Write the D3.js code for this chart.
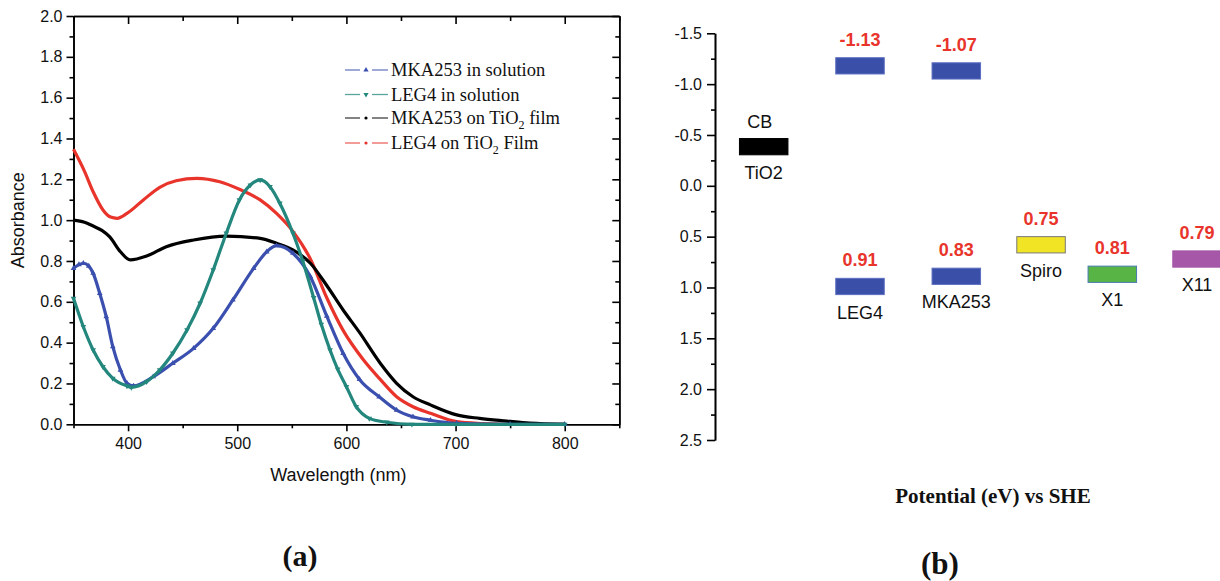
<!DOCTYPE html>
<html><head><meta charset="utf-8">
<script src="https://cdn.jsdelivr.net/npm/d3@7"></script>
<style>body{margin:0;background:#fff}svg{display:block}</style>
</head><body>
<svg id="chart" width="1220" height="581"></svg>
<script>
// ---------- Panel (a) data: absorbance spectra ----------
const mkaSolWl  = [350,355,359,364,368,374,380,386,393,399,405,423,441,460,478,496,515,527,536,551,567,582,597,612,630,646,661,677,701,750,800];
const mkaSolAbs = [0.764,0.782,0.789,0.775,0.740,0.642,0.527,0.380,0.266,0.201,0.188,0.233,0.299,0.372,0.470,0.609,0.764,0.845,0.875,0.838,0.723,0.530,0.348,0.220,0.135,0.070,0.037,0.020,0.005,0.0,0.0];

const legSolWl  = [350,359,368,377,386,399,403,417,429,441,454,466,478,490,502,512,521,530,539,551,560,570,577,585,592,600,609,621,637,660,700,800];
const legSolAbs = [0.617,0.478,0.364,0.282,0.225,0.188,0.181,0.209,0.266,0.348,0.462,0.593,0.756,0.936,1.099,1.172,1.197,1.164,1.083,0.936,0.800,0.620,0.490,0.364,0.270,0.184,0.086,0.029,0.010,0.0,0.0,0.0];

const mkaFilmWl  = [350,360,368,376,383,393,402,417,435,460,490,521,536,551,567,582,597,612,631,646,661,677,701,722,747,768,800];
const mkaFilmAbs = [1.000,0.990,0.971,0.950,0.919,0.845,0.805,0.824,0.870,0.903,0.922,0.911,0.887,0.854,0.789,0.680,0.560,0.450,0.299,0.201,0.135,0.095,0.046,0.029,0.016,0.006,0.0];

const legFilmWl  = [350,360,368,377,384,390,399,414,429,444,463,484,502,521,536,551,567,582,597,615,631,646,661,677,701,725,750,800];
const legFilmAbs = [1.347,1.240,1.139,1.050,1.015,1.009,1.033,1.099,1.161,1.193,1.205,1.188,1.151,1.099,1.033,0.945,0.810,0.620,0.460,0.320,0.220,0.135,0.086,0.054,0.013,0.004,0.0,0.0];

const seriesNames = ["MKA253 in solution","LEG4 in solution","MKA253 on TiO2 film","LEG4 on TiO2 Film"];
const absTicksMajor = [0,0.2,0.4,0.6,0.8,1.0,1.2,1.4,1.6,1.8,2.0];
const absTicksMinor = [0.1,0.3,0.5,0.7,0.9,1.1,1.3,1.5,1.7,1.9];
const wlTicksMajor = [400,500,600,700,800];
const wlTicksMinor = [350,450,550,650,750,850];

// ---------- Panel (b) data: energy levels ----------
const categories   = ["TiO2","LEG4","MKA253","Spiro","X1","X11"];
const categorySlot = [1, 2, 3, 3.88, 4.62, 5.5];
const levelCategory = ["TiO2","LEG4","MKA253","LEG4","MKA253","Spiro","X1","X11"];
const levelKind     = ["CB","LUMO","LUMO","HOMO","HOMO","HOMO","HOMO","HOMO"];
const levelCenter   = [-0.385,-1.18,-1.13,0.99,0.89,0.58,0.87,0.72];
const levelValue    = [null,-1.13,-1.07,0.91,0.83,0.75,0.81,0.79];
const potTicksMajor = [-1.5,-1.0,-0.5,0.0,0.5,1.0,1.5,2.0,2.5];
const potTicksMinor = [-1.25,-0.75,-0.25,0.25,0.75,1.25,1.75,2.25];

// ---------- styles ----------
const colMka = "#3a4fae", colLeg = "#23877d", colBlack = "#000", colRed = "#e8342b";
const levelFill = {TiO2:"#000", LEG4:"#3a4fa8", MKA253:"#3a4fa8", Spiro:"#f1e425", X1:"#59b446", X11:"#a657a8"};
const levelStroke = {TiO2:"#000", LEG4:"#5c6fc0", MKA253:"#5c6fc0", Spiro:"#777", X1:"#4a7ab0", X11:"#a657a8"};
const sans = "'Liberation Sans', Arial, sans-serif";
const serif = "'Liberation Serif', 'Times New Roman', serif";

const svg = d3.select("#chart");

// ================= Panel (a) =================
const ax = {l:73.5, r:619.3, t:16, b:424.3};
const x = d3.scaleLinear().domain([350,850]).range([ax.l, ax.r]);
const y = d3.scaleLinear().domain([0,2]).range([ax.b, ax.t]);
const gA = svg.append("g");

function styleAxis(g, labels) {
  g.selectAll("path.domain").attr("stroke","#000").attr("stroke-width",1.6);
  g.selectAll(".tick line").attr("stroke","#000").attr("stroke-width",1.6);
  g.selectAll(".tick text").attr("font-family",sans).attr("font-size",16).attr("fill","#111");
  if (!labels) g.selectAll(".tick text").remove();
}
// left
let g = gA.append("g").attr("transform",`translate(${ax.l},0)`)
  .call(d3.axisLeft(y).tickValues(absTicksMinor).tickSize(4).tickSizeOuter(0));
styleAxis(g,false);
g = gA.append("g").attr("transform",`translate(${ax.l},0)`)
  .call(d3.axisLeft(y).tickValues(absTicksMajor).tickSize(7).tickSizeOuter(0).tickPadding(4).tickFormat(d3.format(".1f")));
styleAxis(g,true);
// right (inward)
g = gA.append("g").attr("transform",`translate(${ax.r},0)`)
  .call(d3.axisRight(y).tickValues(absTicksMinor).tickSize(-4).tickSizeOuter(0));
styleAxis(g,false);
g = gA.append("g").attr("transform",`translate(${ax.r},0)`)
  .call(d3.axisRight(y).tickValues(absTicksMajor).tickSize(-7).tickSizeOuter(0));
styleAxis(g,false);
// bottom
g = gA.append("g").attr("transform",`translate(0,${ax.b})`)
  .call(d3.axisBottom(x).tickValues(wlTicksMinor).tickSize(4).tickSizeOuter(0));
styleAxis(g,false);
g = gA.append("g").attr("transform",`translate(0,${ax.b})`)
  .call(d3.axisBottom(x).tickValues(wlTicksMajor).tickSize(7).tickSizeOuter(0).tickPadding(6));
styleAxis(g,true);
// top (inward)
g = gA.append("g").attr("transform",`translate(0,${ax.t})`)
  .call(d3.axisTop(x).tickValues(wlTicksMinor).tickSize(-5).tickSizeOuter(0));
styleAxis(g,false);
g = gA.append("g").attr("transform",`translate(0,${ax.t})`)
  .call(d3.axisTop(x).tickValues(wlTicksMajor).tickSize(-8).tickSizeOuter(0));
styleAxis(g,false);

// axis titles
gA.append("text").attr("transform",`translate(24,${(ax.t+ax.b)/2}) rotate(-90)`)
  .attr("text-anchor","middle").attr("font-family",sans).attr("font-size",18).attr("fill","#111").text("Absorbance");
gA.append("text").attr("x",(ax.l+ax.r)/2 - 8).attr("y",481)
  .attr("text-anchor","middle").attr("font-family",sans).attr("font-size",18).attr("fill","#111").text("Wavelength (nm)");

// curves
const line = d3.line().x(d=>x(d[0])).y(d=>y(d[1])).curve(d3.curveMonotoneX);
const series = [
  {wl:legFilmWl, a:legFilmAbs, c:colRed, m:null},
  {wl:mkaFilmWl, a:mkaFilmAbs, c:colBlack, m:null},
  {wl:mkaSolWl, a:mkaSolAbs, c:colMka, m:"up"},
  {wl:legSolWl, a:legSolAbs, c:colLeg, m:"down"}
];
const curves = gA.append("g");
series.forEach(s=>{
  const pts = s.wl.map((w,i)=>[w,s.a[i]]);
  curves.append("path").datum(pts).attr("d",line).attr("fill","none")
    .attr("stroke",s.c).attr("stroke-width",3.2).attr("stroke-linejoin","round");
  if (s.m) {
    curves.selectAll(null).data(pts).enter().append("path")
      .attr("d",d3.symbol(d3.symbolTriangle,14)())
      .attr("transform",d=>`translate(${x(d[0])},${y(d[1])}) rotate(${s.m==="down"?180:0})`)
      .attr("fill",s.c);
  }
});

// legend
const legendRows = [
  {name:seriesNames[0], c:colMka, m:"up"},
  {name:seriesNames[1], c:colLeg, m:"down"},
  {name:seriesNames[2], c:colBlack, m:"dot"},
  {name:seriesNames[3], c:colRed, m:"dot"}
];
const legY = [70, 94.5, 118, 143];
const lg = gA.append("g");
legendRows.forEach((r,i)=>{
  const yy = legY[i];
  lg.append("line").attr("x1",345).attr("x2",360).attr("y1",yy).attr("y2",yy).attr("stroke",r.c).attr("stroke-width",1.3).attr("opacity",0.75);
  lg.append("line").attr("x1",372).attr("x2",388).attr("y1",yy).attr("y2",yy).attr("stroke",r.c).attr("stroke-width",1.3).attr("opacity",0.75);
  if (r.m==="dot") lg.append("circle").attr("cx",366).attr("cy",yy).attr("r",1.6).attr("fill",r.c);
  else lg.append("path").attr("d",d3.symbol(d3.symbolTriangle,12)())
    .attr("transform",`translate(366,${yy}) rotate(${r.m==="down"?180:0})`).attr("fill",r.c);
  const t = lg.append("text").attr("x",391).attr("y",yy+6).attr("font-family",serif).attr("font-size",18.5).attr("fill","#111");
  const k = r.name.indexOf("TiO2");
  if (k<0) t.text(r.name);
  else {
    t.append("tspan").text(r.name.slice(0,k+3));
    t.append("tspan").attr("dy",5).attr("font-size",12).text("2");
    t.append("tspan").attr("dy",-5).text(r.name.slice(k+4));
  }
});

svg.append("text").attr("x",300).attr("y",566).attr("text-anchor","middle")
  .attr("font-family",serif).attr("font-weight","bold").attr("font-size",30).attr("fill","#111").text("(a)");

// ================= Panel (b) =================
const bx = 715;
const yE = d3.scaleLinear().domain([-1.5,2.5]).range([33.3,440]);
const xS = d3.scaleLinear().domain([1,2]).range([763.7,860]);
const gB = svg.append("g");
g = gB.append("g").attr("transform",`translate(${bx},0)`)
  .call(d3.axisLeft(yE).tickValues(potTicksMinor).tickSize(4).tickSizeOuter(0));
styleAxis(g,false);
g = gB.append("g").attr("transform",`translate(${bx},0)`)
  .call(d3.axisLeft(yE).tickValues(potTicksMajor).tickSize(8).tickSizeOuter(0).tickPadding(5).tickFormat(d=>d.toFixed(1)));
styleAxis(g,true);

const barW = 48.5, halfH = 0.08;
const slotOf = c => categorySlot[categories.indexOf(c)];
levelCenter.forEach((v,i)=>{
  const c = levelCategory[i];
  const cx = xS(slotOf(c));
  const top = yE(v-halfH), bot = yE(v+halfH);
  gB.append("rect").attr("x",cx-barW/2).attr("y",top).attr("width",barW).attr("height",bot-top)
    .attr("fill",levelFill[c]).attr("stroke",levelStroke[c]).attr("stroke-width",1);
  if (levelValue[i]!==null) {
    gB.append("text").attr("x",cx).attr("y",top-12).attr("text-anchor","middle")
      .attr("font-family",sans).attr("font-weight","bold").attr("font-size",18).attr("fill",colRed)
      .text(levelValue[i].toFixed(2));
  }
  if (levelKind[i]==="CB") {
    gB.append("text").attr("x",cx-4).attr("y",top-11).attr("text-anchor","middle")
      .attr("font-family",sans).attr("font-size",18).attr("fill","#111").text("CB");
  }
  if (levelKind[i]!=="LUMO") {
    gB.append("text").attr("x",cx).attr("y",bot+24).attr("text-anchor","middle")
      .attr("font-family",sans).attr("font-size",18).attr("fill","#111").text(c);
  }
});

svg.append("text").attr("x",993).attr("y",503).attr("text-anchor","middle")
  .attr("font-family",serif).attr("font-weight","bold").attr("font-size",21).attr("fill","#111").text("Potential (eV) vs SHE");
svg.append("text").attr("x",940).attr("y",574).attr("text-anchor","middle")
  .attr("font-family",serif).attr("font-weight","bold").attr("font-size",31).attr("fill","#111").text("(b)");
</script>
</body></html>
